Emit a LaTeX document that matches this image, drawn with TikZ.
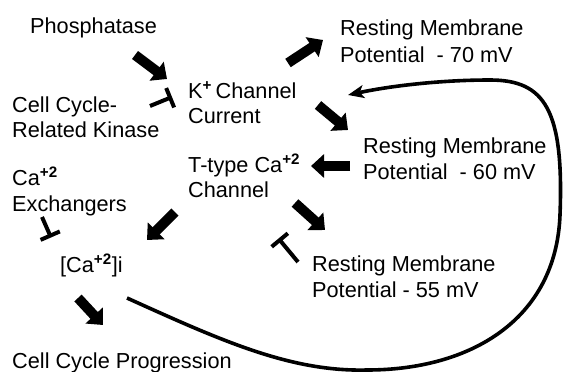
\documentclass[tikz,border=0pt]{standalone}
\usepackage{fontspec}
\setmainfont{Liberation Sans}
\usetikzlibrary{arrows.meta}
\begin{document}
\begin{tikzpicture}[x=1pt,y=-1pt,
  lbl/.style={anchor=base west,inner sep=0pt,font=\fontsize{21.7}{26}\selectfont},
  blockarrow/.style={line width=10pt,-{Triangle[length=13pt,width=23pt]}},
  inhib/.style={line width=4pt,-{Bar[width=21pt]}},
  loopline/.style={line width=3.6pt,-{Stealth[length=16pt,width=13pt,inset=4pt]}}]
\useasboundingbox (0,0) rectangle (565,372);
\fill[white] (0,0) rectangle (565,372);
% texts
\node[lbl] (phos) at (30,34) {Phosphatase};
\node[lbl] (kin1) at (12,112.5) {Cell Cycle-};
\node[lbl] (kin2) at (12,137) {Related Kinase};
\node[lbl] (kcur1) at (188,98.5) {K\textsuperscript{\textbf{+}}\,Channel};
\node[lbl] (kcur2) at (188,123.5) {Current};
\node[lbl] (tt1) at (188,172.5) {T-type Ca\textsuperscript{\textbf{+2}}};
\node[lbl] (tt2) at (188,197.5) {Channel};
\node[lbl] (cax1) at (12,185.5) {Ca\textsuperscript{\textbf{+2}}};
\node[lbl] (cax2) at (12,211) {Exchangers};
\node[lbl] (cai) at (60,272) {[Ca\textsuperscript{\textbf{+2}}]i};
\node[lbl] (ccp) at (12,368) {Cell Cycle Progression};
\node[lbl] (r70a) at (340,35.5) {Resting Membrane};
\node[lbl] (r70b) at (340,62) {Potential\ \ - 70 mV};
\node[lbl] (r60a) at (363,153) {Resting Membrane};
\node[lbl] (r60b) at (363,179) {Potential\ \ - 60 mV};
\node[lbl] (r55a) at (312,271) {Resting Membrane};
\node[lbl] (r55b) at (312,297) {Potential - 55 mV};
% arrow end points
\coordinate (phosT) at (135,55);   \coordinate (phosH) at (167,79);
\coordinate (k70T) at (288,63);    \coordinate (k70H) at (323,40);
\coordinate (k60T) at (318,105);   \coordinate (k60H) at (348,130);
\coordinate (r60T) at (350,166);   \coordinate (r60H) at (311,166);
\coordinate (ttcT) at (175,212);   \coordinate (ttcH) at (147,240);
\coordinate (tt55T) at (295,203);  \coordinate (tt55H) at (325,230);
\coordinate (caiT) at (78,298);    \coordinate (caiH) at (103,325);
\coordinate (kinT) at (150,106);   \coordinate (kinH) at (172,97);
\coordinate (caxT) at (42,217);    \coordinate (caxH) at (51,237.5);
\coordinate (r55T) at (298,262);   \coordinate (r55H) at (278.5,238.5);
\coordinate (loopS) at (127,298);  \coordinate (loopB) at (367,370);
\coordinate (loopR) at (560,215);  \coordinate (loopU) at (490,80);
\coordinate (loopE) at (348,95);
% block arrows
\draw[blockarrow] (phosT) -- (phosH);
\draw[blockarrow] (k70T) -- (k70H);
\draw[blockarrow] (k60T) -- (k60H);
\draw[blockarrow] (r60T) -- (r60H);
\draw[blockarrow] (ttcT) -- (ttcH);
\draw[blockarrow] (tt55T) -- (tt55H);
\draw[blockarrow] (caiT) -- (caiH);
% inhibitions
\draw[inhib] (kinT) -- (kinH);
\draw[inhib] (caxT) -- (caxH);
\draw[inhib] (r55T) -- (r55H);
% feedback loop
\draw[loopline] (loopS) .. controls (220,340) and (290,372) .. (loopB)
  .. controls (470,370) and (556,320) .. (loopR)
  .. controls (564,110) and (545,80) .. (loopU)
  .. controls (440,80) and (390,86) .. (loopE);
\end{tikzpicture}
\end{document}
